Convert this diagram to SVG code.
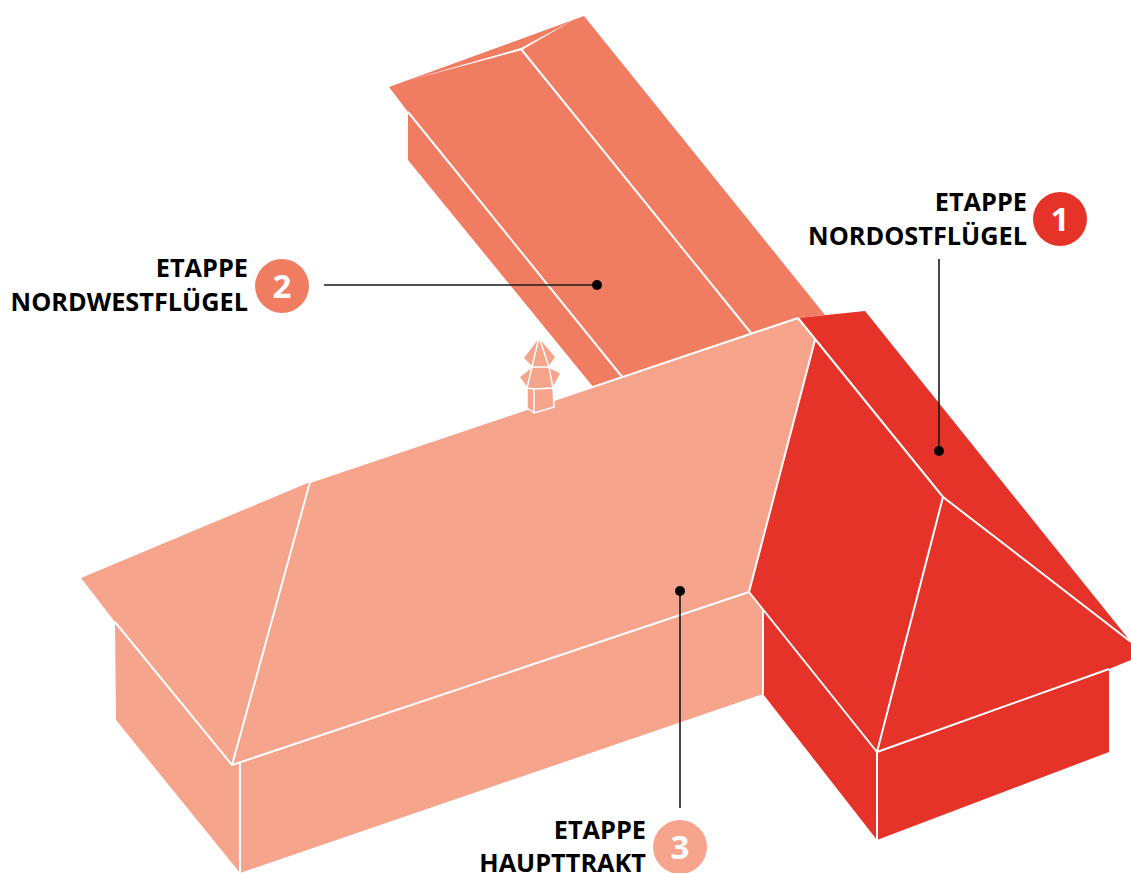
<svg xmlns="http://www.w3.org/2000/svg" width="1131" height="873" viewBox="0 0 1131 873">
<style>
.ln{fill:none;stroke:#fff;stroke-width:2;stroke-linejoin:round}
.thin{stroke-width:1.5}
.taper{fill:#fff}
.lead{fill:none;stroke:#1a1a1a;stroke-width:1.6}
.lb{font-family:"Open Sans","Noto Sans",sans-serif;font-weight:700;font-size:25.3px;fill:#000;text-anchor:end}
.num{font-family:"Open Sans","Noto Sans",sans-serif;font-weight:700;font-size:33px;fill:#fff;text-anchor:middle}
.red{fill:#e6332a}.mid{fill:#f07d62}.pale{fill:#f6a48b}
</style>
<rect width="1131" height="873" fill="#fff"/>
<g id="wing-nordwest">
<polygon class="mid" points="389,87 584,16 825,315 798,318 623,378 594,388 408,160 408,112"/>
<polygon class="taper" points="408,80.5 521,48 574,19.5 522,50 521,50.2"/>
<path class="ln" d="M521,49 751,333M408,112 623,378"/>
</g>
<g id="haupttrakt">
<polygon class="pale" points="81,578 310,482 798,318 815,340 749,592 763,609 763,694 240,873 116,720 115,622"/>
<path class="ln" d="M310,482 798,318M115,622 232,765 749,592M232,765 310,482M240,762 240,873"/>
</g>
<g id="chimney">
<polygon class="pale" points="539,337 556,357 549,367 561,373 553,388 554,407 534,413 527,408 527,388 519,377 532,367 523,358"/>
<path class="ln thin" d="M539,337 523,358 532,367 519,377 527,388 534,389 553,388 561,373 549,367 556,357ZM539,337 532,367 549,367 539,337ZM532,367 527,388M549,367 553,388M527,388 527,408 534,413 554,407 553,388M534,389 534,413"/>
</g>
<g id="nordostfluegel">
<polygon class="red" points="798,318 865,311 1131,642 1131,660 1109,669 1109,752 877,840 763,694 763,609 749,592 815,340"/>
<path class="ln" d="M798,318 943,497 1131,642M943,497 877,752 1109,669M749,592 877,752 877,840M815,340 749,592M763,609 763,694"/>
</g>
<g id="connectors">
<path class="lead" d="M939,259V451M324,285H597M680,591V808"/>
<circle cx="939" cy="451" r="5"/><circle cx="597" cy="285" r="5"/><circle cx="680" cy="591" r="5"/>
</g>
<g id="label-1">
<circle class="red" cx="1060" cy="219" r="27"/>
<text class="num" x="1060" y="231">1</text>
<text class="lb" x="1027" y="211">ETAPPE</text>
<text class="lb" x="1027" y="245">NORDOSTFLÜGEL</text>
</g>
<g id="label-2">
<circle class="mid" cx="282" cy="286" r="27"/>
<text class="num" x="282" y="298">2</text>
<text class="lb" x="248" y="277">ETAPPE</text>
<text class="lb" x="248" y="311">NORDWESTFLÜGEL</text>
</g>
<g id="label-3">
<circle class="pale" cx="680" cy="847" r="27"/>
<text class="num" x="680" y="859">3</text>
<text class="lb" x="646" y="839">ETAPPE</text>
<text class="lb" x="646" y="872">HAUPTTRAKT</text>
</g>
</svg>
